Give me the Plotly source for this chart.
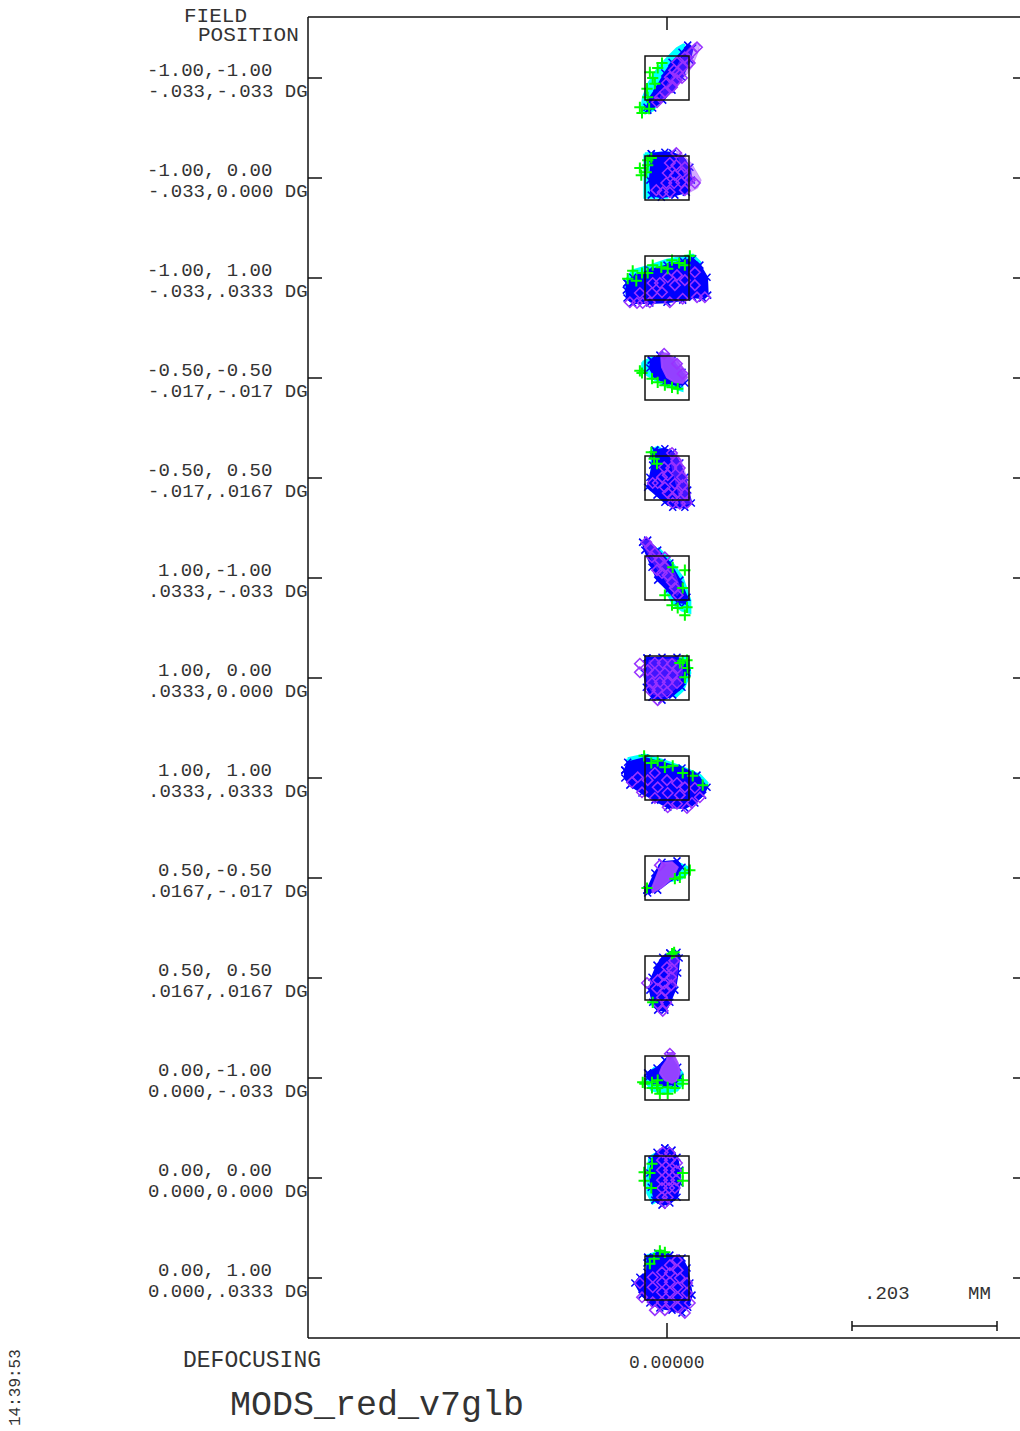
import plotly.graph_objects as go

# ---------------- data ----------------
FIELD_REL = ["-1.00,-1.00", "-1.00, 0.00", "-1.00, 1.00", "-0.50,-0.50", "-0.50, 0.50",
             "1.00,-1.00", "1.00, 0.00", "1.00, 1.00", "0.50,-0.50", "0.50, 0.50",
             "0.00,-1.00", "0.00, 0.00", "0.00, 1.00"]
FIELD_DEG = ["-.033,-.033 DG", "-.033,0.000 DG", "-.033,.0333 DG", "-.017,-.017 DG", "-.017,.0167 DG",
             ".0333,-.033 DG", ".0333,0.000 DG", ".0333,.0333 DG", ".0167,-.017 DG", ".0167,.0167 DG",
             "0.000,-.033 DG", "0.000,0.000 DG", "0.000,.0333 DG"]
DEFOCUS_MM = 0.0
SCALE_BAR_MM = 0.203
BOX_UM = 61.6          # reference box side (um)
ROW_PITCH_UM = 140.0   # vertical spacing between field plots (um)
TITLE = "MODS_red_v7glb"
TIME = "14:39:53"

# spot outlines / ray positions, offsets from each field's chief ray, in micrometres (x right, y up)
CYAN_POLY = [
    [(-35,-42),(-33,-27),(-25,-7),(-12,14),(2,29),(14,41),(24,47),(22,21),(0,-17),(-20,-45),(-30,-49)],
    [(-31,34),(0,35),(0,-27),(-31,-27)],
    [(-57,-3),(-48,10),(-24,17),(0,25),(22,29),(36,32),(46,22),(46,7),(-56,-21)],
    [(-34,22),(-21,28),(-7,1),(21,-13),(21,-17),(-3,-10),(-27,4),(-34,11)],
    [(-21,39),(-13,43),(-7,39),(-14,15),(-21,7)],
    [(-13,42),(4,25),(21,1),(32,-31),(32,-48),(21,-45),(8,-35),(1,-21)],
    [(21,29),(29,28),(32,7),(22,-17),(11,-27)],
    [(-55,27),(-31,32),(-7,25),(21,15),(46,4),(56,-7),(53,-17),(39,-3),(-27,14),(-55,15)],
    [(15,21),(28,15),(32,11),(21,0),(8,-3)],
    [(-20,-26),(-12,-34),(-13,-43),(-22,-36)],
    [(-28,4),(-17,14),(14,15),(21,7),(22,-7),(14,-17),(-3,-20),(-21,-17),(-28,-7)],
    [(-24,29),(-14,35),(-13,7),(-13,-31),(-20,-35),(-27,-21),(-27,7)],
    [(-28,31),(-13,36),(1,32),(-13,15),(-27,7)],
]
BLUE_POLY = [
    [(-27,-45),(-20,-42),(-6,-31),(7,-17),(21,1),(32,25),(36,42),(29,46),(21,36),(7,22),(-3,7),(-14,-13),(-24,-28),(-28,-41)],
    [(-22,34),(-3,36),(8,35),(22,29),(32,15),(34,-3),(27,-20),(11,-24),(-8,-27),(-22,-24),(-24,-3),(-22,21)],
    [(-56,-7),(-48,1),(-24,11),(0,18),(22,24),(36,27),(46,18),(56,1),(57,-24),(50,-28),(36,-27),(22,-31),(0,-34),(-24,-35),(-48,-35),(-56,-28),(-57,-17)],
    [(-22,25),(-10,32),(7,25),(21,8),(25,-7),(15,-10),(-3,-6),(-17,1),(-24,14)],
    [(-17,39),(-3,41),(8,36),(18,21),(25,1),(29,-17),(34,-35),(25,-41),(8,-41),(-3,-34),(-14,-24),(-27,-13),(-24,1),(-20,18),(-20,32)],
    [(-34,50),(-27,53),(-13,39),(4,21),(18,-3),(28,-27),(25,-35),(15,-34),(1,-17),(-13,-3),(-21,15),(-31,39)],
    [(-28,28),(-7,29),(14,29),(25,22),(28,7),(21,-13),(8,-24),(-7,-31),(-21,-27),(-29,-13),(-32,7)],
    [(-59,11),(-55,22),(-31,28),(-7,22),(21,14),(42,4),(56,-13),(50,-24),(39,-35),(25,-42),(1,-41),(-17,-31),(-35,-21),(-52,-10),(-59,0)],
    [(-28,-17),(-17,7),(-7,22),(14,24),(21,15),(11,1),(-13,-17),(-27,-21)],
    [(4,35),(14,36),(17,28),(15,7),(11,-17),(4,-34),(-3,-45),(-13,-45),(-20,-34),(-24,-17),(-21,1),(-14,18),(-6,29)],
    [(-27,7),(-14,14),(-3,25),(4,32),(15,15),(18,1),(11,-8),(-3,-10),(-17,-6),(-27,0)],
    [(-3,42),(7,39),(14,29),(18,11),(18,-7),(14,-27),(4,-35),(-7,-38),(-17,-31),(-22,-13),(-24,7),(-21,25),(-14,36)],
    [(-27,29),(-13,35),(4,32),(21,28),(28,14),(32,-7),(35,-24),(29,-41),(21,-49),(7,-45),(-10,-42),(-24,-35),(-35,-24),(-45,-7),(-38,1),(-28,8),(-28,21)],
]
PURPLE_SOLID_POLY = [
    [],
    [], [],
    [(-7,35),(0,34),(14,25),(22,14),(28,1),(22,-7),(11,-6),(0,1),(-7,15),(-8,28)],
    [], [], [], [],
    [(-21,-14),(-13,7),(-7,21),(7,22),(15,15),(8,1),(-7,-13),(-20,-20)],
    [],
    [(1,35),(8,35),(15,21),(18,8),(14,-3),(7,-7),(-3,-3),(-10,7),(-7,15),(0,25)],
    [], [],
]
PURPLE_LIGHT_POLY = [
    [(-12,-32),(0,-27),(14,-13),(25,1),(35,15),(43,35),(46,46),(39,49),(28,39),(17,22),(7,2),(-5,-17)],
    [(13,38),(20,35),(34,21),(48,-3),(43,-14),(32,-20),(27,-3),(20,15)],
    [], [],
    [(11,39),(20,25),(28,0),(34,-35),(20,-39),(14,-14),(7,14),(4,35)],
    [(-34,52),(-27,53),(-7,31),(11,7),(20,-17),(14,-25),(0,-7),(-17,17),(-31,42)],
    [(-25,25),(10,27),(20,20),(22,7),(16,-11),(6,-20),(-7,-27),(-19,-23),(-27,-11),(-29,6)],
    [], [],
    [(7,35),(15,32),(15,11),(11,-13),(4,-7),(1,15)],
    [], [], [],
]
PURPLE_PTS = [
    [(14,22),(10,11),(4,1),(15,8),(22,15),(25,29),(35,36),(42,43),(0,-7),(-3,-20),(-10,-27),(-14,-34),(14,-3),(7,-13),(32,21),(21,0)],
    [(4,21),(13,18),(25,15),(1,7),(11,4),(22,8),(20,-6),(32,-3),(-1,-7),(10,-7),(-15,-17),(-6,-20),(4,-20),(25,-17),(13,35),(39,-7)],
    [(-52,-34),(-42,-35),(-34,-35),(-24,-34),(4,-34),(22,-29),(42,-27),(53,-27),(-21,-21),(-7,-20),(-10,-7),(11,-10),(14,4),(25,-3),(39,8),(39,-10),(1,1),(-20,-7),(-38,-21)],
    [(-4,34),(14,20),(22,6)],
    [(7,35),(13,24),(18,14),(21,1),(22,-10),(25,-22),(28,-35),(18,-36),(8,-35),(1,-21),(-3,-13),(-13,-7),(-20,-7),(-7,1),(1,4),(6,14),(-4,15),(11,-8),(14,-21),(8,-27)],
    [(-29,50),(-24,43),(-17,35),(-10,25),(-3,15),(-7,7),(-14,11),(1,4),(7,-6),(11,-14),(15,-24),(-3,29),(-21,29)],
    [(-38,20),(-38,8),(-27,11),(-17,21),(-6,21),(7,20),(15,14),(-17,7),(-3,7),(8,4),(-21,-7),(-10,-6),(1,-6),(14,-7),(-24,-17),(-13,-17),(0,-20),(-13,-31)],
    [(-49,-6),(-35,-20),(-17,-28),(1,-41),(14,-36),(28,-42),(35,-35),(46,-27),(-27,-3),(-13,-13),(1,-21),(18,-24),(0,-3),(14,-7),(25,-13),(-17,7),(39,-14),(-41,1)],
    [(-10,18)],
    [(10,24),(0,15),(7,13),(-4,4),(6,1),(-13,-3),(-4,-8),(6,-10),(-14,-15),(-3,-18),(-7,-27),(-13,-36),(-1,-35),(-6,-46),(-28,-7)],
    [(4,34)],
    [(-6,36),(4,35),(-7,25),(4,25),(14,21),(-7,11),(3,11),(13,10),(-7,-3),(3,-3),(13,-3),(-7,-14),(3,-14),(11,-14),(-7,-27),(1,-27),(-3,-35)],
    [(14,25),(4,18),(15,11),(-7,8),(4,7),(18,0),(-20,1),(-7,-6),(4,-6),(15,-13),(28,-7),(-20,-13),(-7,-20),(4,-20),(15,-27),(28,-21),(-35,-27),(-20,-34),(-7,-34),(4,-34),(15,-41),(25,-49),(-17,-45),(-3,-45),(32,-35),(-38,-7)],
]
GREEN_PTS = [
    [(-24,8),(-13,14),(-20,0),(-17,-8),(-28,-15),(-27,-27),(-38,-41),(-35,-49),(-25,-43),(-7,21)],
    [(-38,14),(-36,4),(-27,25),(-22,28),(-29,8),(-27,18)],
    [(-48,10),(-35,7),(-43,-4),(-55,-1),(-20,18),(-8,15),(7,25),(17,21),(32,31),(25,18),(1,13),(-27,7)],
    [(-38,10),(-35,7),(-21,-1),(-13,-6),(-3,-10),(7,-13),(15,-15)],
    [(-22,36),(-18,27),(-14,20)],
    [(25,11),(22,-14),(8,15),(-3,-24),(7,-38),(15,-42),(28,-41),(25,-52)],
    [(22,24),(29,14),(25,1),(18,21),(28,25)],
    [(-32,31),(-22,21),(-13,24),(-3,15),(8,17),(22,7),(36,3),(50,-10)],
    [(32,11),(25,7),(18,1),(11,-1),(-28,-14)],
    [(10,36),(7,34),(-20,-34)],
    [(-34,-6),(-31,-8),(-21,-6),(-21,-14),(-13,-3),(-13,-14),(-10,-22),(1,-22),(1,-13),(11,-14),(22,-3),(22,-8),(-14,-10)],
    [(-32,8),(-32,-4),(-22,-14),(-21,20),(22,7),(22,-4),(-24,7)],
    [(-10,38),(-3,36),(-18,27),(-24,20)],
]

# ---------------- geometry (um) ----------------
PX = 1.4  # um per screen pixel
X_RANGE = [-667 * PX, (1020 - 667) * PX]
Y_RANGE = [-(1431 - 78) * PX, 78 * PX]
FRAME_L = (308 - 667) * PX
FRAME_R = (1030 - 667) * PX
FRAME_T = (78 - 17) * PX
FRAME_B = (78 - 1338) * PX

centres_y = [-ROW_PITCH_UM * i for i in range(len(FIELD_REL))]


def gather(groups, close=False):
    xs, ys = [], []
    for cy, pts in zip(centres_y, groups):
        if not pts:
            continue
        seq = list(pts) + ([pts[0]] if close else [])
        for x, y in seq:
            xs.append(x)
            ys.append(cy + y)
        xs.append(None)
        ys.append(None)
    return xs, ys


BLUE = "#0000ff"
CYAN = "#00ffff"
GREEN = "#00ff00"
PURPLE = "#9933ff"

fig = go.Figure()

cx, cy = gather(CYAN_POLY, close=True)
fig.add_trace(go.Scatter(x=cx, y=cy, mode="lines", fill="toself", fillcolor=CYAN,
                         line=dict(color=CYAN, width=3), hoverinfo="skip"))
bx, by = gather(BLUE_POLY, close=True)
fig.add_trace(go.Scatter(x=bx, y=by, mode="lines+markers", fill="toself", fillcolor=BLUE,
                         line=dict(color=BLUE, width=2),
                         marker=dict(symbol="x-thin", size=7, line=dict(color=BLUE, width=1.5)),
                         hoverinfo="skip"))
plx, ply = gather(PURPLE_LIGHT_POLY, close=True)
fig.add_trace(go.Scatter(x=plx, y=ply, mode="lines", fill="toself", fillcolor="rgba(153,51,255,0.42)",
                         line=dict(color="rgba(153,51,255,0.35)", width=1), hoverinfo="skip"))
psx, psy = gather(PURPLE_SOLID_POLY, close=True)
fig.add_trace(go.Scatter(x=psx, y=psy, mode="lines", fill="toself", fillcolor="rgba(160,70,255,0.92)",
                         line=dict(color="rgba(160,70,255,0.9)", width=2), hoverinfo="skip"))
ppx, ppy = gather(PURPLE_PTS)
fig.add_trace(go.Scatter(x=ppx, y=ppy, mode="markers",
                         marker=dict(symbol="diamond-open", size=8, color=PURPLE,
                                     line=dict(color=PURPLE, width=1.6)),
                         hoverinfo="skip"))
gx, gy = gather(GREEN_PTS)
fig.add_trace(go.Scatter(x=gx, y=gy, mode="markers",
                         marker=dict(symbol="cross-thin", size=8, color=GREEN,
                                     line=dict(color=GREEN, width=2)),
                         hoverinfo="skip"))

shapes = []
LINE = dict(color="#111111", width=1.5)
for c in centres_y:
    shapes.append(dict(type="rect", xref="x", yref="y", x0=-BOX_UM / 2, x1=BOX_UM / 2,
                       y0=c - BOX_UM / 2, y1=c + BOX_UM / 2, line=LINE))
    shapes.append(dict(type="line", xref="x", yref="y", x0=FRAME_L, x1=FRAME_L + 14 * PX,
                       y0=c, y1=c, line=LINE))
    shapes.append(dict(type="line", xref="x", yref="y", x0=(1013 - 667) * PX, x1=FRAME_R,
                       y0=c, y1=c, line=LINE))
shapes.append(dict(type="line", xref="x", yref="y", x0=FRAME_L, x1=FRAME_L, y0=FRAME_B, y1=FRAME_T, line=LINE))
shapes.append(dict(type="line", xref="x", yref="y", x0=FRAME_L, x1=FRAME_R, y0=FRAME_T, y1=FRAME_T, line=LINE))
shapes.append(dict(type="line", xref="x", yref="y", x0=FRAME_L, x1=FRAME_R, y0=FRAME_B, y1=FRAME_B, line=LINE))
shapes.append(dict(type="line", xref="x", yref="y", x0=DEFOCUS_MM, x1=DEFOCUS_MM,
                   y0=FRAME_T, y1=FRAME_T - 13 * PX, line=LINE))
shapes.append(dict(type="line", xref="x", yref="y", x0=DEFOCUS_MM, x1=DEFOCUS_MM,
                   y0=FRAME_B, y1=FRAME_B + 15 * PX, line=LINE))
sb0 = (852 - 667) * PX
sb1 = sb0 + SCALE_BAR_MM * 1000
sby = (78 - 1326) * PX
shapes.append(dict(type="line", xref="x", yref="y", x0=sb0, x1=sb1, y0=sby, y1=sby, line=LINE))
for xe in (sb0, sb1):
    shapes.append(dict(type="line", xref="x", yref="y", x0=xe, x1=xe, y0=sby - 5 * PX, y1=sby + 5 * PX, line=LINE))

FONT = "Liberation Mono"
TXT = "#333333"
ann = []
for c, rel, deg in zip(centres_y, FIELD_REL, FIELD_DEG):
    ann.append(dict(x=274 / 1020, xref="paper", y=c + 7 * PX, yref="y", text=rel, showarrow=False,
                    xanchor="right", yanchor="middle", font=dict(family=FONT, size=19, color=TXT)))
    ann.append(dict(x=310 / 1020, xref="paper", y=c - 14 * PX, yref="y", text=deg, showarrow=False,
                    xanchor="right", yanchor="middle", font=dict(family=FONT, size=19, color=TXT)))


def ptxt(text, px, py, size, anchor="left", angle=0):
    ann.append(dict(x=px / 1020, y=1 - py / 1431, xref="paper", yref="paper", text=text, showarrow=False,
                    xanchor=anchor, yanchor="middle", textangle=angle,
                    font=dict(family=FONT, size=size, color=TXT)))


ptxt("FIELD", 182, 17, 21)
ptxt("POSITION", 196, 36, 21)
ptxt("DEFOCUSING", 181, 1361, 23)
ptxt(f"{DEFOCUS_MM:.5f}", 667, 1363, 18, anchor="center")
ptxt(TITLE, 228, 1406, 35)
ptxt(f"{SCALE_BAR_MM:.3f}".lstrip("0"), 862, 1294, 19)
ptxt("MM", 966, 1294, 19)
ptxt(TIME, 16, 1388, 16, anchor="center", angle=-90)

fig.update_layout(
    width=1020, height=1431,
    margin=dict(l=0, r=0, t=0, b=0),
    paper_bgcolor="white", plot_bgcolor="white",
    showlegend=False,
    xaxis=dict(range=X_RANGE, visible=False, fixedrange=True),
    yaxis=dict(range=Y_RANGE, visible=False, fixedrange=True),
    shapes=shapes, annotations=ann,
)

fig.write_html("out.html", config={"displayModeBar": False},
               post_script="document.body.style.margin='0px';")
